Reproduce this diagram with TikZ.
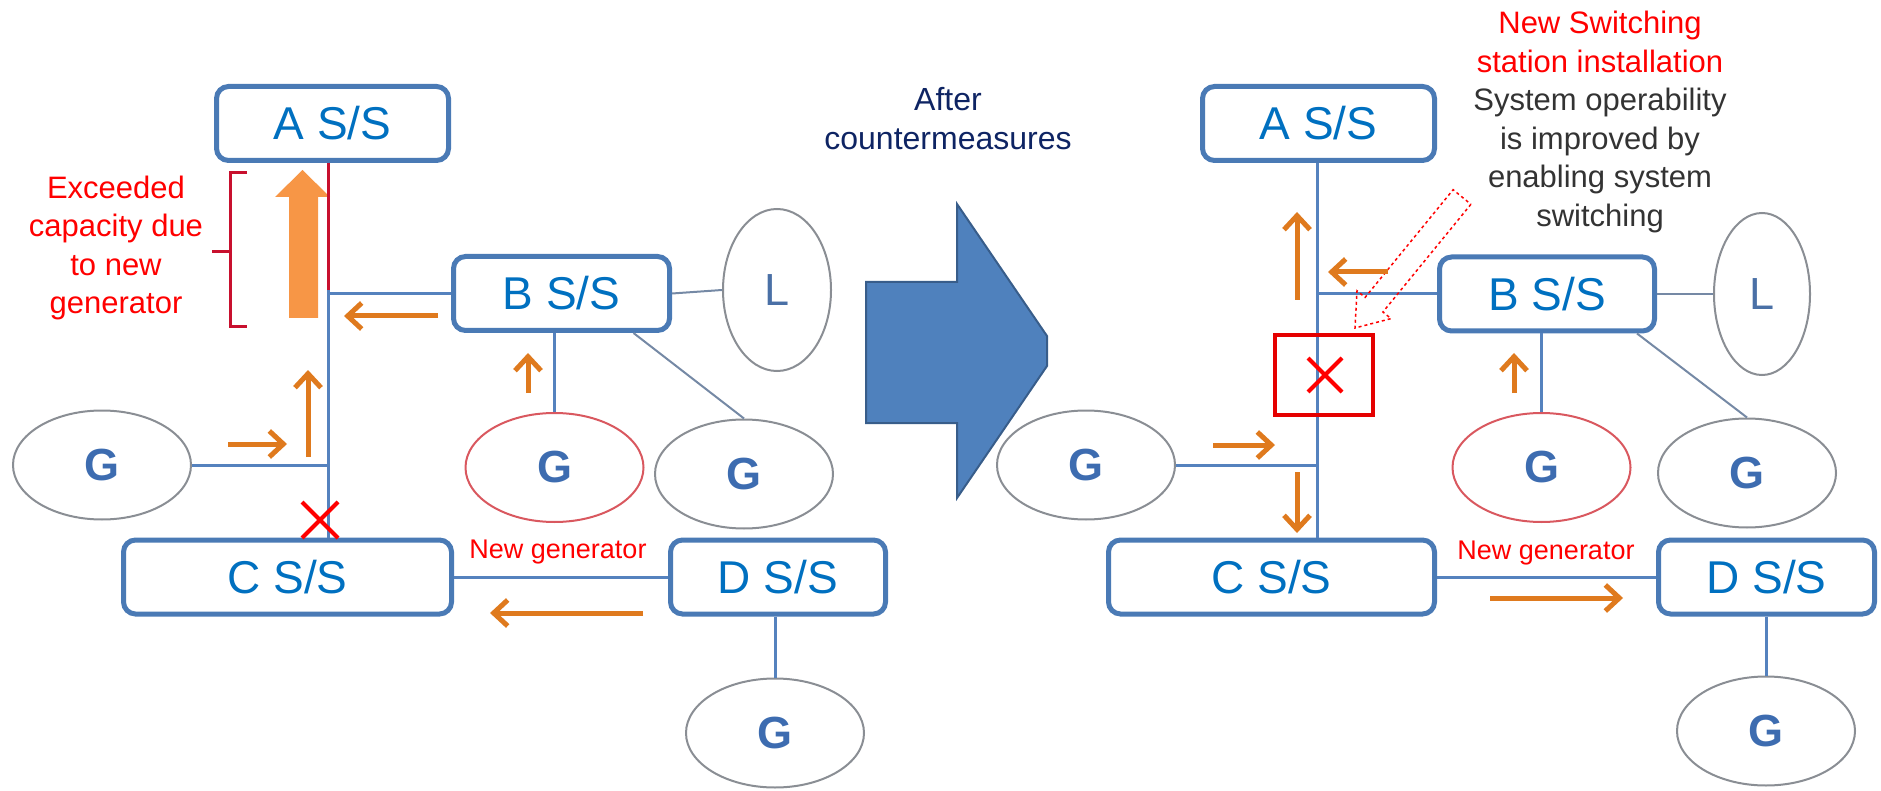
\documentclass[tikz,border=0pt]{standalone}
\usepackage{fontspec}
\setmainfont{Liberation Sans}
\usetikzlibrary{shapes.geometric,arrows.meta}
\definecolor{BoxBlue}{HTML}{4A7AB5}
\definecolor{LabelBlue}{HTML}{0070C0}
\definecolor{LineBlue}{HTML}{5582BE}
\definecolor{GenGray}{HTML}{8A8E94}
\definecolor{GenBlue}{HTML}{3D6CB0}
\definecolor{FlowOrange}{HTML}{DF7A1E}
\definecolor{BigOrange}{HTML}{F79646}
\definecolor{AlertRed}{HTML}{FF0000}
\definecolor{BracketRed}{HTML}{C8102E}
\definecolor{NewRed}{HTML}{D9585F}
\definecolor{Navy}{HTML}{0E2463}
\definecolor{TextGray}{HTML}{333333}
\definecolor{ArrowFill}{HTML}{4F81BD}
\definecolor{ArrowEdge}{HTML}{385D8A}

\begin{document}
\begin{tikzpicture}[
      x=1pt, y=-1pt,
      box/.style={draw=BoxBlue, line width=5pt, rounded corners=12pt, fill=white, text=LabelBlue,
        font=\fontsize{46}{50}\selectfont, minimum height=74pt, inner sep=0pt},
      gen/.style={ellipse, draw=GenGray, line width=2pt, minimum width=178pt, minimum height=109pt,
        inner sep=0pt, text=GenBlue, font=\fontsize{45}{50}\selectfont\bfseries},
      load/.style={ellipse, draw=GenGray, line width=2pt, minimum height=162pt, inner sep=0pt,
        text=GenBlue!80!gray, font=\fontsize{45}{50}\selectfont},
      bus/.style={draw=LineBlue, line width=3pt},
      tie/.style={draw=GenGray!60!LineBlue, line width=2pt},
      flow/.style={draw=FlowOrange, line width=5pt, -{Straight Barb[length=14pt,width=26pt]}},
      cross/.style={draw=AlertRed, line width=4pt},
      note/.style={align=center, font=\fontsize{31}{38.5}\selectfont}
    ]
    \useasboundingbox (0,0) rectangle (1881,791);

    \node[box, minimum width=232pt] (aBefore) at (332.5,123.5) {A S/S};
    \node[box, minimum width=216pt] (bBefore) at (561.5,293.5) {B S/S};
    \node[box, minimum width=328pt] (cBefore) at (287.5,577) {C S/S};
    \node[box, minimum width=215pt] (dBefore) at (778,577) {D S/S};
    \node[load, minimum width=108pt] (lBefore) at (777,290) {L};
    \node[gen] (g1Before) at (102,465) {G};
    \node[gen, draw=NewRed] (gNewBefore) at (554.5,467.5) {G};
    \node[gen] (g2Before) at (744,474) {G};
    \node[gen] (g3Before) at (775,733) {G};
    \coordinate (busBefore) at (328,290);

    \draw[bus] (aBefore.south -| busBefore) -- (cBefore.north -| busBefore);
    \draw[bus] (bBefore.west) -- (bBefore.west -| busBefore);
    \draw[bus] (g1Before.east) -- (g1Before.east -| busBefore);
    \draw[bus] (gNewBefore.north |- bBefore.south) -- (gNewBefore.north);
    \draw[tie] ([xshift=72pt]bBefore.south) -- (g2Before.north);
    \draw[tie] (bBefore.east) -- (lBefore.west);
    \draw[bus] (cBefore.east) -- (dBefore.west);
    \draw[bus] (g3Before.north |- dBefore.south) -- (g3Before.north);

    \fill[BigOrange] (289,318) -- (289,197) -- (275,197) -- (302.5,170) -- (330,197) -- (318,197) -- (318,318) -- cycle;
    \draw[BracketRed, line width=3pt] (aBefore.south -| busBefore) -- (busBefore);
    \draw[BracketRed, line width=3pt] (247,173) -- (230,173) -- (230,327) -- (247,327) (230,252) -- (212,252);
    \node[note, text=AlertRed] (exceeded) at (116,248) {Exceeded\\capacity due\\to new\\generator};

    \draw[flow] (438,316) -- (344,316);
    \draw[flow] (308,457) -- (308,370);
    \draw[flow] (228,444) -- (287,444);
    \draw[flow] (528,393) -- (528,353);
    \draw[flow] (643,613) -- (490,613);
    \draw[cross] (302,502) -- (338,538) (302,538) -- (338,502);
    \node[font=\fontsize{27}{30}\selectfont, text=AlertRed] (newBefore) at (558,552) {New generator};

    \node[note, text=Navy, font=\fontsize{32}{39}\selectfont] (after) at (948,119) {After\\countermeasures};
    \filldraw[fill=ArrowFill, draw=ArrowEdge, line width=2pt] (866,282) -- (957,282) -- (957,204) -- (1047,336)
      -- (1047,366) -- (957,498) -- (957,423) -- (866,423) -- cycle;

    \node[box, minimum width=232pt] (aAfter) at (1318.5,123.5) {A S/S};
    \node[box, minimum width=215pt] (bAfter) at (1547,294) {B S/S};
    \node[box, minimum width=326pt] (cAfter) at (1271.5,577) {C S/S};
    \node[box, minimum width=216pt] (dAfter) at (1766.5,577) {D S/S};
    \node[load, minimum width=96pt] (lAfter) at (1762,294) {L};
    \node[gen] (g1After) at (1086,465) {G};
    \node[gen, draw=NewRed] (gNewAfter) at (1541.5,467.5) {G};
    \node[gen] (g2After) at (1747,473) {G};
    \node[gen] (g3After) at (1766,731) {G};
    \coordinate (busAfter) at (1317,290);

    \draw[bus] (aAfter.south -| busAfter) -- (cAfter.north -| busAfter);
    \draw[bus] (bAfter.west) -- (bAfter.west -| busAfter);
    \draw[bus] (g1After.east) -- (g1After.east -| busAfter);
    \draw[bus] (gNewAfter.north |- bAfter.south) -- (gNewAfter.north);
    \draw[tie] ([xshift=90pt]bAfter.south) -- (g2After.north);
    \draw[tie] (bAfter.east) -- (lAfter.west);
    \draw[bus] (cAfter.east) -- (dAfter.west);
    \draw[bus] (g3After.north |- dAfter.south) -- (g3After.north);

    \node[draw=AlertRed!90!black, line width=4pt, minimum width=98pt, minimum height=80pt] (switch) at (1324,375) {};
    \draw[cross] (1308,358) -- (1342,392) (1308,392) -- (1342,358);
    \draw[AlertRed, dashed, line width=1.5pt] (1470.9,204.3) -- (1382.9,312) -- (1391,318.6) -- (1355,328)
      -- (1357,290.8) -- (1365.1,297.4) -- (1453.1,189.7) -- cycle;

    \draw[flow] (1297,300) -- (1297,212);
    \draw[flow] (1388,272) -- (1328,272);
    \draw[flow] (1213,445) -- (1275,445);
    \draw[flow] (1297,472) -- (1297,533);
    \draw[flow] (1514,393) -- (1514,353);
    \draw[flow] (1490,598) -- (1623,598);
    \node[font=\fontsize{27}{30}\selectfont, text=AlertRed] (newAfter) at (1546,553) {New generator};

    \node[note, text=TextGray] (benefit) at (1600,122) {\textcolor{AlertRed}{New Switching}\\\textcolor{AlertRed}{station installation}\\System operability\\is improved by\\enabling system\\switching};
  \end{tikzpicture}
\end{document}
